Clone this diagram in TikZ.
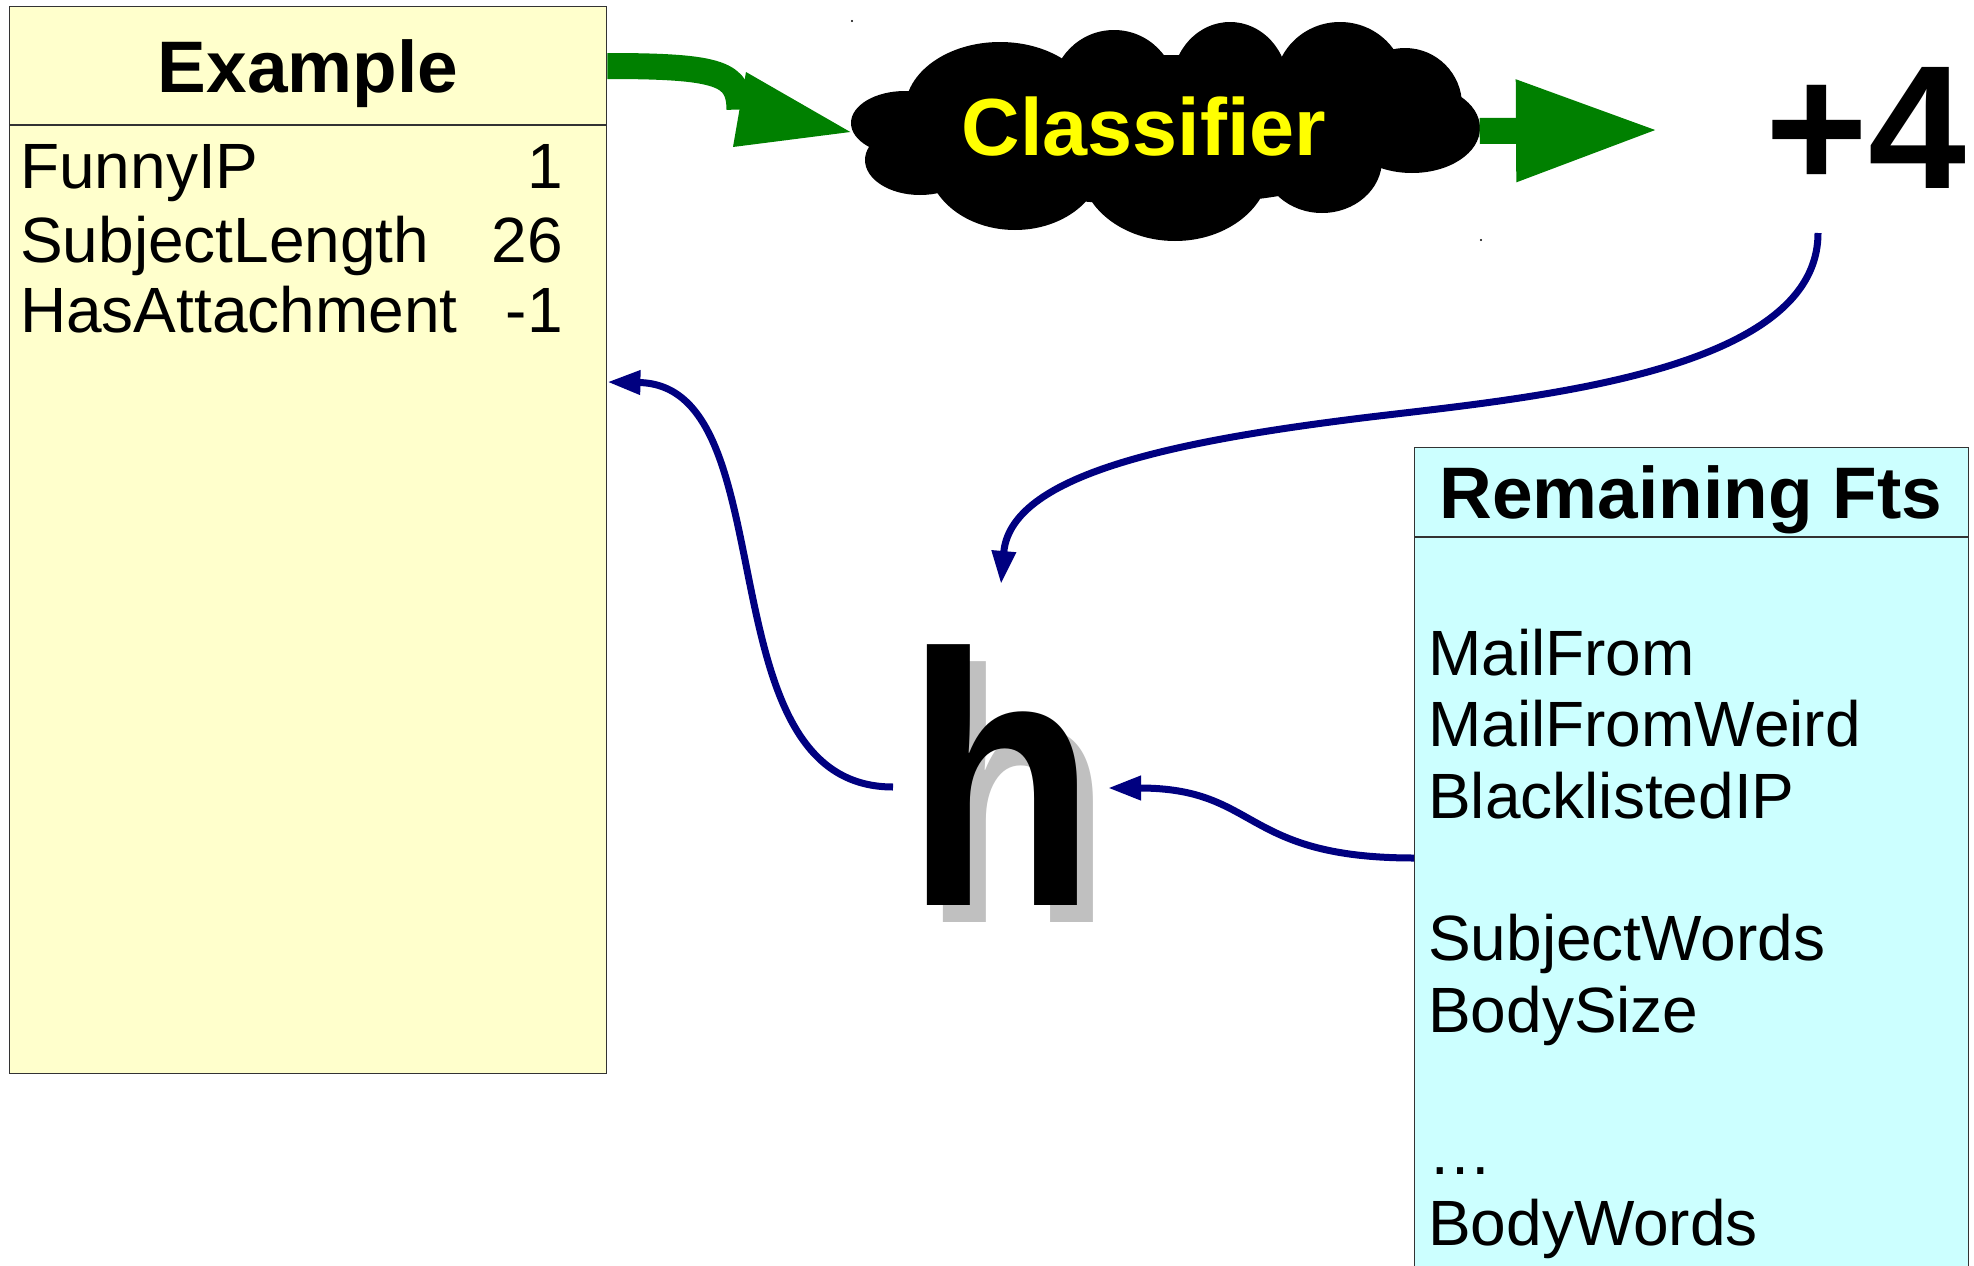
\documentclass[tikz,border=0pt]{standalone}
\usepackage{fontspec}
\setmainfont{Liberation Sans}
\usetikzlibrary{arrows.meta}
\definecolor{boxyellow}{HTML}{FFFFCC}
\definecolor{boxcyan}{HTML}{CCFFFF}
\definecolor{arrgreen}{HTML}{008000}
\definecolor{arrnavy}{HTML}{000080}
\definecolor{shadowgray}{HTML}{C0C0C0}
\definecolor{txtyellow}{HTML}{FFFF00}
\definecolor{bordergray}{HTML}{333333}
\tikzset{
  panel/.style={draw=bordergray, line width=1.4pt, anchor=north west, inner sep=0pt},
  txt/.style={inner sep=0pt, font=\fontsize{64}{72}\selectfont},
  head/.style={inner sep=0pt, font=\fontsize{73}{80}\selectfont\bfseries},
  greenarr/.style={draw=arrgreen, line width=26pt, line join=round},
  bluearr/.style={draw=arrnavy, line width=7pt, -{Triangle[length=33pt,width=23pt]}},
}
\begin{document}
\begin{tikzpicture}[x=1pt,y=-1pt]
\useasboundingbox (0,0) rectangle (1974,1266);
\fill[white] (0,0) rectangle (1974,1266);

% Example panel
\node[panel, fill=boxyellow, minimum width=597pt, minimum height=1067pt] (ex) at (9,6) {};
\draw[draw=bordergray, line width=1.4pt] ([yshift=-119pt]ex.north west) -- ([yshift=-119pt]ex.north east);
\node[head, anchor=base] (exh) at (308,92) {Example};
\node[txt, anchor=base west] (r1) at (20,188) {FunnyIP};
\node[txt, anchor=base east] (v1) at (563,188) {1};
\node[txt, anchor=base west] (r2) at (20,262) {SubjectLength};
\node[txt, anchor=base east] (v2) at (563,262) {26};
\node[txt, anchor=base west] (r3) at (20,332) {HasAttachment};
\node[txt, anchor=base east] (v3) at (563,332) {-1};

% Remaining features panel
\node[panel, fill=boxcyan, minimum width=554pt, minimum height=840pt] (rf) at (1414,447) {};
\draw[draw=bordergray, line width=1.4pt] ([yshift=-90pt]rf.north west) -- ([yshift=-90pt]rf.north east);
\node[head, anchor=base] (rfh) at (1691,518) {Remaining Fts};
\node[txt, anchor=base west] (f1) at (1428,675) {MailFrom};
\node[txt, anchor=base west] (f2) at (1428,746) {MailFromWeird};
\node[txt, anchor=base west] (f3) at (1428,818) {BlacklistedIP};
\node[txt, anchor=base west] (f4) at (1428,960) {SubjectWords};
\node[txt, anchor=base west] (f5) at (1428,1032) {BodySize};
\node[txt, anchor=base west] (f6) at (1428,1174) {…};
\node[txt, anchor=base west] (f7) at (1428,1245) {BodyWords};

% Classifier cloud (union of puffs)
\node[inner sep=0pt, minimum width=629pt, minimum height=220pt] (cl) at (1165,132) {};
\fill[black]
  (1160,130) ellipse [x radius=250, y radius=75]
  (905,123) ellipse [x radius=54, y radius=32]
  (1000,110) ellipse [x radius=95, y radius=68]
  (1114,92) ellipse [x radius=62, y radius=62]
  (1230,85) ellipse [x radius=58, y radius=63]
  (1340,85) ellipse [x radius=65, y radius=63]
  (1405,105) ellipse [x radius=57, y radius=57]
  (1412,128) ellipse [x radius=68, y radius=45]
  (1322,160) ellipse [x radius=60, y radius=53]
  (1175,165) ellipse [x radius=95, y radius=76]
  (1015,160) ellipse [x radius=88, y radius=70]
  (920,160) ellipse [x radius=55, y radius=35];
\node[inner sep=0pt, anchor=base, text=txtyellow, font=\fontsize{81}{90}\selectfont\bfseries] (clt) at (1144,155) {Classifier};
\fill[black] (852,21) circle (1.2);
\fill[black] (1481,240) circle (1.2);

% Score
\node[inner sep=0pt, anchor=base west, font=\fontsize{176}{190}\selectfont\bfseries] (score) at (1765,188) {+4};

% h with shadow
\node[inner sep=0pt, anchor=base west, text=shadowgray, font=\fontsize{360}{400}\selectfont\bfseries] (hs) at (921,922) {\scalebox{0.87}[1]{h}};
\node[inner sep=0pt, anchor=base west, text=black, font=\fontsize{360}{400}\selectfont\bfseries] (h) at (905,905) {\scalebox{0.87}[1]{h}};

% connector end points
\coordinate (g1a) at (ex.east |- 0,66);
\coordinate (g1b) at (739.5,109.5);
\coordinate (g2tip) at (1659,130);
\coordinate (sc) at (1818,233);
\coordinate (htop) at (1001,584);
\coordinate (hleft) at (893,787);
\coordinate (exin) at (ex.east |- 0,382);
\coordinate (rfout) at (rf.west |- 0,858);
\coordinate (hright) at (1108,788);

% green arrows
\draw[greenarr] (g1a) .. controls (722,66) and (739,74) .. (g1b);
\fill[arrgreen] (746,72) -- (cl.west) -- (733,147) -- cycle;
\draw[greenarr, -{Triangle[length=143pt,width=95pt]}] (cl.east |- 0,131) -- (g2tip);

% blue arrows
\draw[bluearr] (sc) .. controls (1818,380) and (1500,400) .. (1346,420) .. controls (1150,445) and (1010,480) .. (htop);
\draw[bluearr] (hleft) .. controls (700,787) and (790,385) .. (exin);
\draw[bluearr] (rfout) .. controls (1240,858) and (1260,788) .. (hright);
\end{tikzpicture}
\end{document}
